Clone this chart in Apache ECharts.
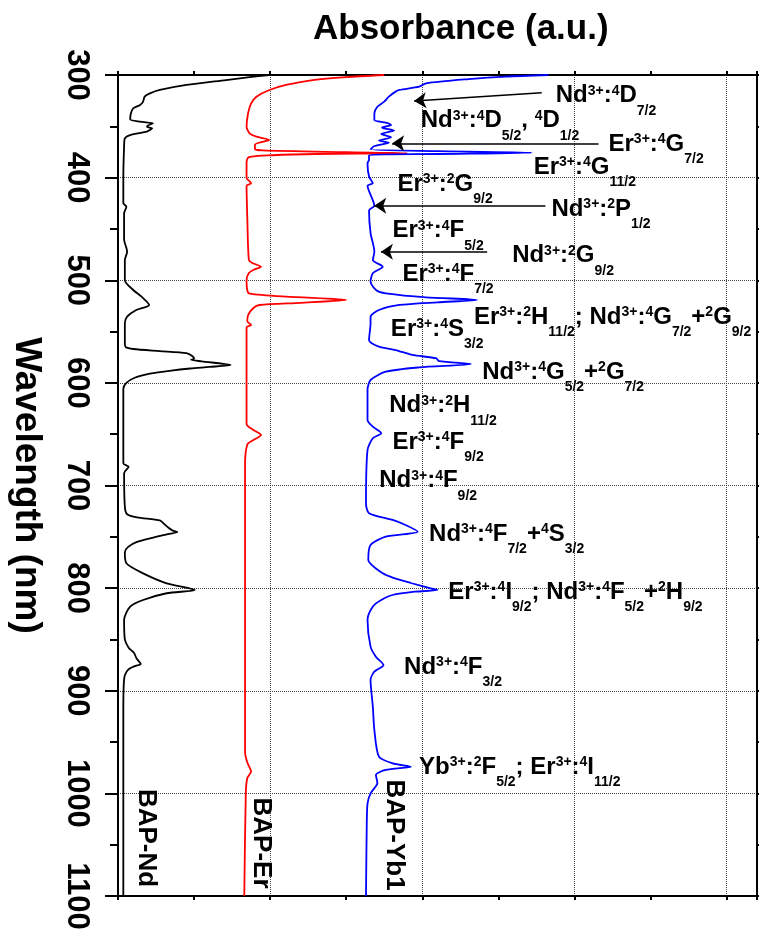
<!DOCTYPE html>
<html>
<head>
<meta charset="utf-8">
<script src="https://cdn.jsdelivr.net/npm/echarts@6/dist/echarts.min.js"></script>
<style>
html, body { margin: 0; padding: 0; background: #fff; }
#chart { width: 759px; height: 936px; }
</style>
</head>
<body>
<div id="chart"></div>
<script>
var FONT = "'Liberation Sans', Arial, Helvetica, sans-serif";

// BAP-Nd : wavelength (nm) and absorbance (a.u.)
var ndWl = [300, 302, 304.9, 309.7, 314.6, 317.9, 321.1, 326, 329.2, 332.5, 337.3, 343.2, 345.5, 347.1, 349, 350.4, 352, 353.5, 355.2, 358.5, 361.7, 370, 400, 425, 428.3, 434.8, 460, 472.2, 480.3, 500, 509.5, 516, 524.1, 529, 535.5, 542, 561.4, 565, 567, 569, 571, 574, 576.5, 577.5, 579, 582.6, 584.5, 586, 588, 591, 595, 600, 606, 678.4, 681.7, 688, 720.6, 728, 731, 734, 737, 741, 744, 745.3, 748, 751, 755, 760, 765, 775.8, 785.6, 795.3, 801.8, 805, 811.6, 818.1, 831, 850, 858, 863, 868, 871, 874, 876, 879, 885, 895, 920, 1100];
var ndAbs = [1.99, 1.73, 1.42, 0.90, 0.55, 0.42, 0.35, 0.33, 0.29, 0.20, 0.17, 0.16, 0.29, 0.46, 0.40, 0.38, 0.45, 0.42, 0.38, 0.16, 0.09, 0.08, 0.07, 0.07, 0.11, 0.08, 0.08, 0.12, 0.09, 0.09, 0.20, 0.31, 0.41, 0.24, 0.12, 0.09, 0.09, 0.10, 0.20, 0.55, 0.90, 0.98, 1.00, 0.96, 1.10, 1.48, 1.20, 0.95, 0.70, 0.42, 0.22, 0.11, 0.07, 0.07, 0.14, 0.08, 0.09, 0.12, 0.25, 0.55, 0.60, 0.66, 0.72, 0.78, 0.62, 0.45, 0.25, 0.13, 0.09, 0.11, 0.33, 0.64, 1.01, 0.64, 0.33, 0.16, 0.08, 0.09, 0.14, 0.21, 0.24, 0.27, 0.30, 0.22, 0.14, 0.09, 0.075, 0.07, 0.07];

// BAP-Er (red curve)
var erWl = [300, 302, 304.9, 309.7, 314.6, 321.1, 327.6, 337.3, 350.4, 356.8, 360, 363.3, 366, 368, 372, 373.5, 375.2, 376.3, 377, 378.2, 380, 385, 400, 405.5, 408, 440, 480, 483, 486.8, 490, 493, 500, 510, 513, 516, 519.2, 522, 524.1, 527, 533.9, 540, 543.6, 546, 600, 640, 645.9, 650.8, 655.7, 660, 680, 960, 970, 978.8, 985, 1000, 1100];
var erAbs = [3.50, 3.00, 2.56, 2.21, 1.99, 1.82, 1.75, 1.71, 1.69, 1.73, 1.82, 1.99, 1.85, 1.80, 1.80, 1.90, 3.00, 3.80, 2.60, 2.03, 1.72, 1.69, 1.69, 1.75, 1.69, 1.70, 1.72, 1.76, 1.88, 1.78, 1.72, 1.69, 1.70, 1.73, 2.21, 3.00, 2.40, 1.86, 1.78, 1.71, 1.70, 1.75, 1.69, 1.69, 1.69, 1.78, 1.88, 1.78, 1.70, 1.67, 1.67, 1.70, 1.75, 1.70, 1.68, 1.66];

// BAP-Yb1 (blue curve)
var ybWl = [300, 301.5, 304, 308.1, 311.4, 314.6, 316.2, 321.1, 326, 330.9, 337.3, 343.8, 346.4, 348.7, 351.3, 354.2, 357.5, 360.7, 363.9, 365.9, 369.2, 372.4, 374.2, 375.7, 377, 378, 382.8, 386, 399, 405.5, 408, 427.3, 432, 454, 472.2, 480.3, 486.8, 493.2, 501.4, 510, 512.7, 516.6, 519.2, 521.5, 524.1, 529, 535.5, 542, 558.2, 564.7, 568, 572.8, 576, 578.7, 581.6, 584.9, 589.1, 597.2, 606.9, 636.2, 642.7, 649.1, 654, 665.4, 717.4, 727.1, 733.6, 738.5, 745, 749.9, 758, 772.6, 785.6, 790, 795, 800, 801.8, 803.5, 806.7, 812, 818, 831, 857, 866.8, 874.9, 881.4, 889.5, 915.5, 938.2, 964.2, 970.7, 974, 977.2, 982.1, 990, 1000, 1010, 1030, 1100];
var ybAbs = [5.66, 5.10, 4.61, 4.05, 3.96, 3.70, 3.65, 3.56, 3.50, 3.41, 3.37, 3.37, 3.52, 3.59, 3.47, 3.63, 3.46, 3.59, 3.43, 3.56, 3.37, 3.32, 4.20, 5.44, 4.20, 3.30, 3.30, 3.28, 3.30, 3.35, 3.28, 3.37, 3.30, 3.32, 3.37, 3.35, 3.48, 3.35, 3.32, 3.40, 3.52, 4.05, 4.72, 4.20, 3.70, 3.43, 3.32, 3.32, 3.30, 3.43, 3.65, 3.87, 4.18, 4.22, 4.64, 3.96, 3.52, 3.32, 3.28, 3.28, 3.35, 3.46, 3.35, 3.28, 3.26, 3.30, 3.61, 3.78, 3.94, 3.52, 3.32, 3.29, 3.48, 3.62, 3.85, 4.10, 4.20, 3.90, 3.61, 3.45, 3.35, 3.28, 3.32, 3.39, 3.49, 3.37, 3.32, 3.35, 3.37, 3.43, 3.61, 3.85, 3.52, 3.39, 3.41, 3.32, 3.28, 3.27, 3.26];

// sample names written along the curves
var sampleNames = ['BAP-Nd', 'BAP-Er', 'BAP-Yb1'];
var sampleAbs = [0.367, 1.887, 3.631];
var sampleWl = [1043.5, 1048.4, 1040.6];

// transition labels (^{..} superscript, _{..} subscript), anchored at top-left
var annoText = [
    'Nd^{3+}:^{4}D_{7/2}',
    'Nd^{3+}:^{4}D_{5/2}, ^{4}D_{1/2}',
    'Er^{3+}:^{4}G_{7/2}',
    'Er^{3+}:^{4}G_{11/2}',
    'Er^{3+}:^{2}G_{9/2}',
    'Nd^{3+}:^{2}P_{1/2}',
    'Er^{3+}:^{4}F_{5/2}',
    'Nd^{3+}:^{2}G_{9/2}',
    'Er^{3+}:^{4}F_{7/2}',
    'Er^{3+}:^{4}S_{3/2}',
    'Er^{3+}:^{2}H_{11/2}; Nd^{3+}:^{4}G_{7/2}+^{2}G_{9/2}',
    'Nd^{3+}:^{4}G_{5/2}+^{2}G_{7/2}',
    'Nd^{3+}:^{2}H_{11/2}',
    'Er^{3+}:^{4}F_{9/2}',
    'Nd^{3+}:^{4}F_{9/2}',
    'Nd^{3+}:^{4}F_{7/2}+^{4}S_{3/2}',
    'Er^{3+}:^{4}I_{9/2}; Nd^{3+}:^{4}F_{5/2}+^{2}H_{9/2}',
    'Nd^{3+}:^{4}F_{3/2}',
    'Yb^{3+}:^{2}F_{5/2}; Er^{3+}:^{4}I_{11/2}'
];
var annoAbs = [5.754, 3.980, 6.448, 5.465, 3.674, 5.697, 3.608, 5.181, 3.739, 3.587, 4.679, 4.788, 3.565, 3.608, 3.434, 4.089, 4.342, 3.761, 3.958];
var annoWl = [308.5, 332.8, 355.5, 378.0, 394.5, 418.9, 440.0, 464.4, 482.2, 535.8, 524.1, 577.7, 610.5, 645.9, 683.6, 735.6, 792.1, 865.2, 962.6];

// arrows: tail (right) -> head (left)
var arrowTailAbs = [5.570, 6.317, 5.619, 4.853];
var arrowTailWl = [317.2, 366.6, 427.4, 472.2];
var arrowHeadAbs = [3.893, 3.604, 3.368, 3.456];
var arrowHeadWl = [325.3, 366.6, 427.4, 472.2];

function zip(xs, ys) {
    var out = [];
    for (var i = 0; i < xs.length; i++) out.push([xs[i], ys[i]]);
    return out;
}

// "Nd^{3+}:^{4}D_{7/2}" -> echarts rich text
function toRich(s) {
    var out = '';
    var re = /([\^_])\{([^}]*)\}|([^\^_]+)/g, m;
    while ((m = re.exec(s))) {
        if (m[3]) out += '{b|' + m[3] + '}';
        else out += '{' + (m[1] === '^' ? 'p' : 's') + '|' + m[2] + '}';
    }
    return out;
}

var richStyles = {
    b: { fontSize: 24, fontWeight: 'bold', fontFamily: FONT, color: '#000', lineHeight: 34, verticalAlign: 'top' },
    p: { fontSize: 14, fontWeight: 'bold', fontFamily: FONT, color: '#000', lineHeight: 14, verticalAlign: 'top' },
    s: { fontSize: 14, fontWeight: 'bold', fontFamily: FONT, color: '#000', lineHeight: 14, verticalAlign: 'bottom' }
};

var annoData = [];
for (var i = 0; i < annoText.length; i++) {
    annoData.push({ value: [annoAbs[i], annoWl[i]], rich: toRich(annoText[i]) });
}
var arrowData = [];
for (var j = 0; j < arrowTailAbs.length; j++) {
    arrowData.push({ coords: [[arrowTailAbs[j], arrowTailWl[j]], [arrowHeadAbs[j], arrowHeadWl[j]]] });
}
var sampleData = [];
for (var k = 0; k < sampleNames.length; k++) {
    sampleData.push({ value: [sampleAbs[k], sampleWl[k]], name: sampleNames[k] });
}

var tickStyle = { color: '#000', width: 2 };

function curve(name, xs, ys, color) {
    return {
        name: name,
        type: 'line',
        data: zip(xs, ys),
        symbol: 'none',
        smooth: 0.25,
        lineStyle: { color: color, width: 1.8 },
        z: 3
    };
}

var chart = echarts.init(document.getElementById('chart'));
var option = {
    animation: false,
    backgroundColor: '#fff',
    title: {
        text: 'Absorbance (a.u.)',
        left: 308,
        top: 7,
        textStyle: { fontSize: 35, fontWeight: 'bold', fontFamily: FONT, color: '#000' }
    },
    grid: { left: 118, right: 2, top: 75, bottom: 40, containLabel: false, outerBoundsMode: 'none' },
    xAxis: [
        {
            type: 'value', position: 'bottom', min: 0, max: 8.4, interval: 2,
            axisLine: { show: true, onZero: false, lineStyle: tickStyle },
            axisTick: { show: true, inside: false, length: 4, lineStyle: tickStyle },
            minorTick: { show: true, splitNumber: 2, length: 4, lineStyle: tickStyle },
            splitLine: { show: true, lineStyle: { color: '#444', type: 'dotted', width: 1 } },
            axisLabel: { show: false }
        },
        {
            type: 'value', position: 'top', min: 0, max: 8.4, interval: 2,
            axisLine: { show: true, onZero: false, lineStyle: tickStyle },
            axisTick: { show: true, inside: false, length: 4, lineStyle: tickStyle },
            minorTick: { show: true, splitNumber: 2, length: 4, lineStyle: tickStyle },
            splitLine: { show: false },
            axisLabel: { show: false }
        }
    ],
    yAxis: [
        {
            type: 'value', position: 'left', inverse: true, min: 300, max: 1100, interval: 100,
            name: 'Wavelength (nm)',
            nameLocation: 'middle',
            nameRotate: -90,
            nameGap: 73,
            nameTextStyle: { fontSize: 37, fontWeight: 'bold', fontFamily: FONT, color: '#000' },
            axisLine: { show: true, onZero: false, lineStyle: tickStyle },
            axisTick: { show: true, inside: false, length: 13, lineStyle: tickStyle },
            minorTick: { show: true, splitNumber: 2, length: 8, lineStyle: tickStyle },
            splitLine: { show: true, lineStyle: { color: '#444', type: 'dotted', width: 1 } },
            axisLabel: {
                rotate: -90, margin: 26, fontSize: 31, fontWeight: 'bold', fontFamily: FONT, color: '#000',
                formatter: function (v) { return String(v); }
            }
        },
        {
            type: 'value', position: 'right', inverse: true, min: 300, max: 1100, interval: 100,
            axisLine: { show: true, onZero: false, lineStyle: tickStyle },
            axisTick: { show: true, inside: false, length: 6, lineStyle: tickStyle },
            minorTick: { show: true, splitNumber: 2, length: 4, lineStyle: tickStyle },
            splitLine: { show: false },
            axisLabel: { show: false }
        }
    ],
    series: [
        curve('BAP-Nd', ndAbs, ndWl, '#000000'),
        curve('BAP-Er', erAbs, erWl, '#ff0000'),
        curve('BAP-Yb1', ybAbs, ybWl, '#0000ff'),
        {
            type: 'lines',
            coordinateSystem: 'cartesian2d',
            symbol: ['none', 'arrow'],
            symbolSize: [7, 12],
            lineStyle: { color: '#000', width: 1.5, opacity: 1, curveness: 0 },
            data: arrowData,
            z: 4
        },
        {
            type: 'scatter',
            symbolSize: 0,
            data: annoData,
            silent: true,
            itemStyle: { opacity: 1 },
            label: {
                show: true,
                position: [0, 0],
                align: 'left',
                verticalAlign: 'top',
                color: '#000',
                opacity: 1,
                formatter: function (p) { return p.data.rich; },
                rich: richStyles
            },
            z: 5
        },
        {
            type: 'scatter',
            symbolSize: 0,
            data: sampleData,
            silent: true,
            itemStyle: { opacity: 1 },
            label: {
                show: true,
                position: 'inside',
                rotate: -90,
                formatter: '{b}',
                fontSize: 26,
                fontWeight: 'bold',
                fontFamily: FONT,
                color: '#000',
                opacity: 1
            },
            z: 5
        }
    ]
};
chart.setOption(option);
</script>
</body>
</html>
